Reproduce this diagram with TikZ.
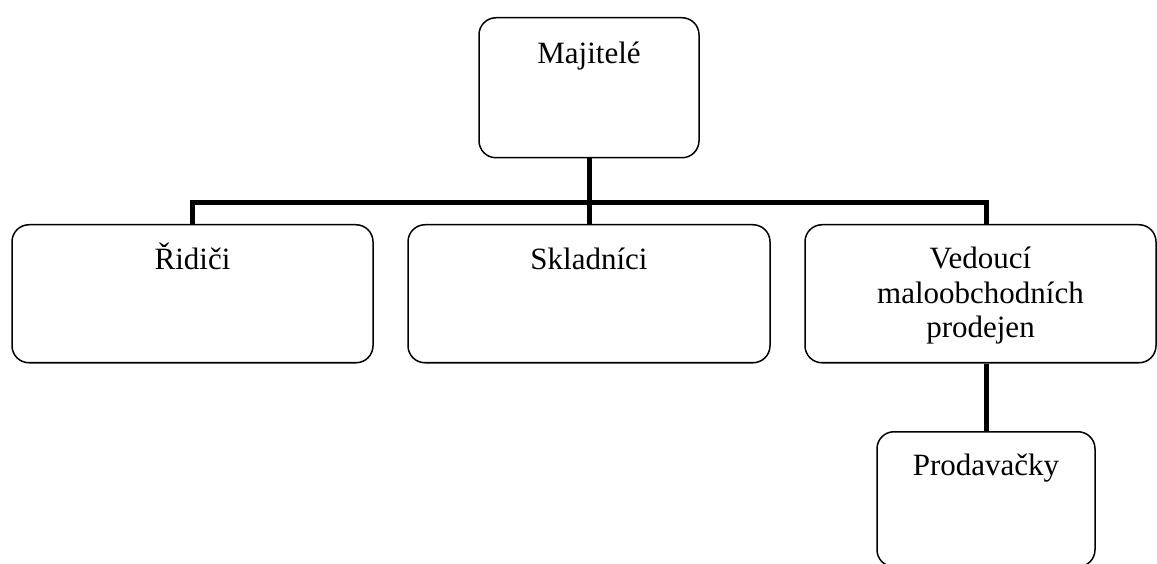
\documentclass[tikz,border=0pt]{standalone}
\usepackage{fontspec}
\setmainfont{Liberation Serif}
\usetikzlibrary{positioning}

\begin{document}
\begin{tikzpicture}[x=1pt, y=1pt,
    unit/.style={draw, line width=1.5pt, rounded corners=17pt, inner sep=0pt,
                 align=center, anchor=north, text height=45pt, text depth=93pt,
                 font=\fontsize{31}{34.5}\selectfont},
    conn/.style={line width=5pt}]
					\useasboundingbox (0,0) rectangle (1157,563);
					\node (M) at (589,546)   [unit, text width=220pt, text height=46pt, text depth=94pt] {Majitelé};
					\node (R) at (192.5,339) [unit, text width=361pt] {Řidiči};
					\node (S) at (589,339)   [unit, text width=362pt] {Skladníci};
					\node (V) at (980.5,339) [unit, text width=351pt, text height=44pt, text depth=94pt] {Vedoucí\\maloobchodních\\prodejen};
					\node (P) at (986,132)   [unit, text width=218pt, text height=44pt, text depth=91pt] {Prodavačky};
					% Draw the lines between the nodes
					\draw[conn] (M.south) -- (S.north);
					\draw[conn] (R.north) -- ++(0,21) -| (P.north |- V.north);
					\draw[conn] (V.south -| P.north) -- (P.north);
				\end{tikzpicture}
\end{document}
